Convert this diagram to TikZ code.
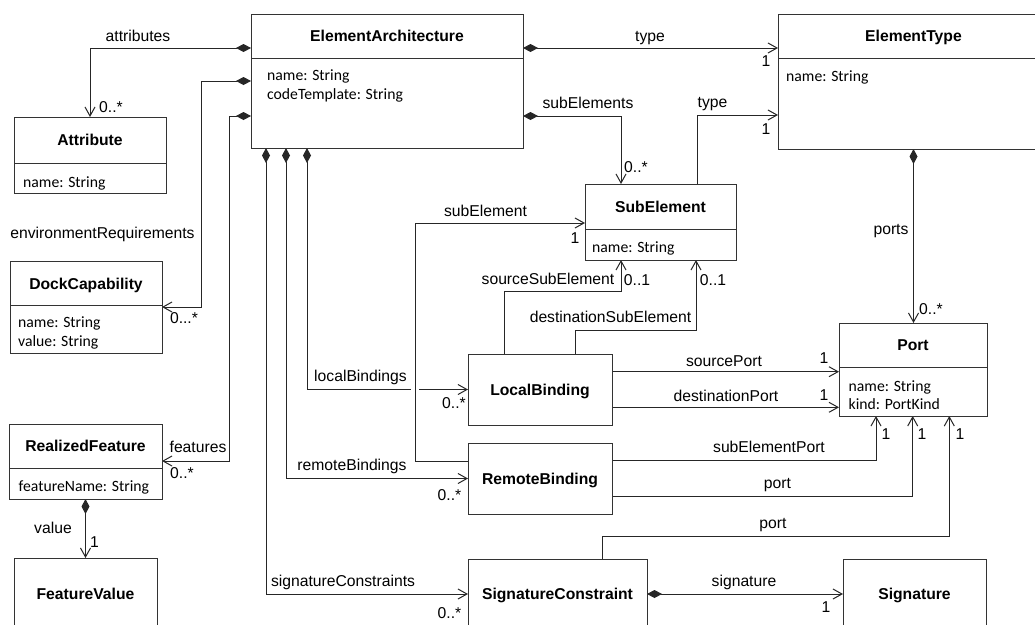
\documentclass[tikz,border=0pt]{standalone}
\usepackage{fontspec}
\setmainfont{Liberation Sans}
\newfontfamily\attrfont{Carlito}
\usetikzlibrary{arrows.meta}
\pgfdeclarelayer{back}
\pgfdeclarelayer{edges}
\pgfsetlayers{back,edges,main}

\begin{document}
\begin{tikzpicture}[x=1pt,y=-1pt,
  box/.style 2 args={draw=black!80, line width=1pt, fill=white, inner sep=0pt,
    outer sep=0pt, minimum width=#1pt, minimum height=#2pt},
  ttl/.style={font=\bfseries\fontsize{15.7}{19}\selectfont, inner sep=0pt,
    text height=11pt, text depth=0pt},
  att/.style={font=\attrfont\fontsize{15.7}{19}\selectfont, inner sep=0pt,
    anchor=base west},
  lbl/.style={font=\fontsize{15.7}{19}\selectfont, inner sep=0pt,
    text height=11pt, text depth=0pt},
  sep/.style={draw=black!80, line width=1pt},
  link/.style={draw=black!85, line width=1pt,
    -{Straight Barb[length=9pt,width=10pt]}},
  part/.style={link, {Diamond[length=15pt,width=8pt]}-{Straight Barb[length=9pt,width=10pt]}},
]
\useasboundingbox (0,0) rectangle (1035,624);
\clip (0,0) rectangle (1035,624);
\begin{pgfonlayer}{back}
  \fill[white] (0,0) rectangle (1035,624);
\end{pgfonlayer}

% ---------- classes ----------
\node[box={272}{134}] (EA) at (387,81) {};
\draw[sep] (EA.west |- 0,58) -- (EA.east |- 0,58);
\node[ttl] (EAt) at (387,36) {ElementArchitecture};
\node[att] (EAa1) at (267,80.5) {name: String};
\node[att] (EAa2) at (267,99.5) {codeTemplate: String};

\node[box={271}{135}] (ET) at (913.5,81.5) {};
\draw[sep] (ET.west |- 0,58) -- (ET.east |- 0,58);
\node[ttl] (ETt) at (913.5,36) {ElementType};
\node[att] (ETa1) at (786,81) {name: String};

\node[box={152}{76}] (Attr) at (90,155) {};
\draw[sep] (Attr.west |- 0,163) -- (Attr.east |- 0,163);
\node[ttl] (Attrt) at (90,140) {Attribute};
\node[att] (Attra1) at (23,187) {name: String};

\node[box={152}{92}] (Dock) at (86,307) {};
\draw[sep] (Dock.west |- 0,305) -- (Dock.east |- 0,305);
\node[ttl] (Dockt) at (86,283.5) {DockCapability};
\node[att] (Docka1) at (18,327.5) {name: String};
\node[att] (Docka2) at (18,346.5) {value: String};

\node[box={153}{75}] (RF) at (85.5,461.5) {};
\draw[sep] (RF.west |- 0,468) -- (RF.east |- 0,468);
\node[ttl] (RFt) at (85.5,446) {RealizedFeature};
\node[att] (RFa1) at (18.5,491) {featureName: String};

\node[box={143}{72}] (FV) at (85.5,594) {};
\node[ttl] (FVt) at (85.5,594) {FeatureValue};

\node[box={151}{76}] (Sub) at (660.5,222) {};
\draw[sep] (Sub.west |- 0,229.5) -- (Sub.east |- 0,229.5);
\node[ttl] (Subt) at (660.5,207) {SubElement};
\node[att] (Suba1) at (592,252.5) {name: String};

\node[box={148}{93}] (Port) at (913,369.5) {};
\draw[sep] (Port.west |- 0,367) -- (Port.east |- 0,367);
\node[ttl] (Portt) at (913,345) {Port};
\node[att] (Porta1) at (848.5,391) {name: String};
\node[att] (Porta2) at (848.5,409.5) {kind: PortKind};

\node[box={144}{71}] (LB) at (540,389.5) {};
\node[ttl] (LBt) at (540,390) {LocalBinding};

\node[box={144}{71}] (RB) at (540,478.5) {};
\node[ttl] (RBt) at (540,479) {RemoteBinding};

\node[box={179}{70}] (SC) at (557.5,594) {};
\node[ttl] (SCt) at (557.5,594) {SignatureConstraint};

\node[box={143}{70}] (Sig) at (914.5,594) {};
\node[ttl] (Sigt) at (914.5,594) {Signature};

% ---------- associations ----------
\begin{pgfonlayer}{edges}
  \draw[part] (EA.west |- 0,48) -| (Attr.north);
  \draw[part] (EA.west |- 0,81) -| (201,307) -- (Dock.east |- 0,307);
  \draw[part] (EA.west |- 0,116) -| (229.5,461) -- (RF.east |- 0,461);
  \draw[part] (RF.south) -- (FV.north);
  \draw[part] (EA.east |- 0,48) -- (ET.west |- 0,48);
  \draw[part] (EA.east |- 0,116) -| (Sub.north -| 621,0);
  \draw[link] (Sub.north -| 697,0) |- (ET.west |- 0,115);
  \draw[part] (ET.south) -- (ET.south |- Port.north);
  \draw[part] (EA.south -| 307,0) |- (LB.west);
  \draw[part] (EA.south -| 286,0) |- (RB.west);
  \draw[part] (EA.south -| 266,0) |- (SC.west);
  % crossing the localBindings line with a small gap
  \draw[link, preaction={draw=white, line width=8pt, -}]
    (RB.west |- 0,461) -- (415,461) |- (Sub.west |- 0,223);
  \draw[link] (LB.north -| 504.3,0) |- (621,291) -- (Sub.south -| 621,0);
  \draw[link] (LB.north -| 575,0) |- (696,330) -- (Sub.south -| 696,0);
  \draw[link] (LB.east |- 0,371.7) -- (Port.west |- 0,371.7);
  \draw[link] (LB.east |- 0,407.3) -- (Port.west |- 0,407.3);
  \draw[link] (RB.east |- 0,460.7) -| (Port.south -| 876,0);
  \draw[link] (RB.east |- 0,496) -| (Port.south -| 912.7,0);
  \draw[link] (SC.north -| 602.3,0) |- (949.3,536.7) -- (Port.south -| 949.3,0);
  \draw[part] (SC.east) -- (Sig.west);
\end{pgfonlayer}

% ---------- role names and multiplicities ----------
\node[lbl] (l1) at (138,36) {attributes};
\node[lbl] (m1) at (111,107) {0..*};
\node[lbl] (l2) at (102.5,233) {environmentRequirements};
\node[lbl] (m2) at (184,318) {0...*};
\node[lbl] (l3) at (198,447) {features};
\node[lbl] (m3) at (182,473) {0..*};
\node[lbl] (l4) at (53,528) {value};
\node[lbl] (m4) at (94.5,542) {1};
\node[lbl] (l5) at (650,36) {type};
\node[lbl] (m5) at (766,61) {1};
\node[lbl] (l6) at (588,103) {subElements};
\node[lbl] (m6) at (636,167) {0..*};
\node[lbl] (l7) at (712.5,102) {type};
\node[lbl] (m7) at (766,129) {1};
\node[lbl] (l8) at (891,229) {ports};
\node[lbl] (m8) at (931,309) {0..*};
\node[lbl] (l9) at (485.5,211) {subElement};
\node[lbl] (m9) at (575,238) {1};
\node[lbl] (l10) at (360.5,376) {localBindings};
\node[lbl] (m10) at (454,403) {0..*};
\node[lbl] (l11) at (352,465) {remoteBindings};
\node[lbl] (m11) at (449.5,495) {0..*};
\node[lbl] (l12) at (343,581) {signatureConstraints};
\node[lbl] (m12) at (449.5,613) {0..*};
\node[lbl] (l13) at (548,279) {sourceSubElement};
\node[lbl] (m13) at (637,280) {0..1};
\node[lbl] (l14) at (610.5,317) {destinationSubElement};
\node[lbl] (m14) at (713,280) {0..1};
\node[lbl] (l15) at (724,361) {sourcePort};
\node[lbl] (m15) at (824,358) {1};
\node[lbl] (l16) at (726,396) {destinationPort};
\node[lbl] (m16) at (824,395) {1};
\node[lbl] (l17) at (769,447) {subElementPort};
\node[lbl] (m17) at (886,434) {1};
\node[lbl] (l18) at (777.5,483) {port};
\node[lbl] (m18) at (922,434) {1};
\node[lbl] (l19) at (773,523) {port};
\node[lbl] (m19) at (960,434) {1};
\node[lbl] (l20) at (744,581) {signature};
\node[lbl] (m20) at (826,607) {1};
\end{tikzpicture}
\end{document}
